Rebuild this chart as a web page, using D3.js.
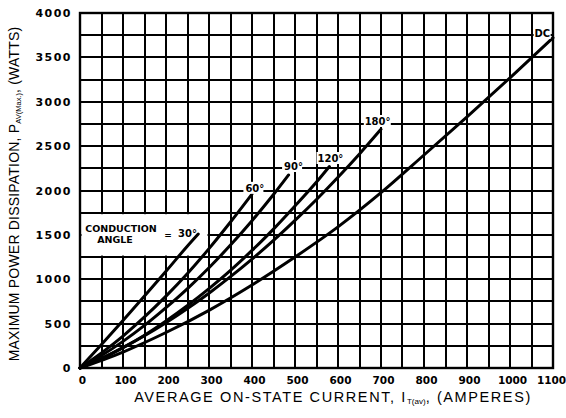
<html>
<head>
<meta charset="utf-8">
<script src="https://cdn.jsdelivr.net/npm/d3@7"></script>
<style>
  body { margin: 0; background: #fff; }
  text { fill: #000; }
</style>
</head>
<body>
<div id="chart"></div>
<script>
// tick labels
var xTicks = [0, 100, 200, 300, 400, 500, 600, 700, 800, 900, 1000, 1100];
var yTicks = [0, 500, 1000, 1500, 2000, 2500, 3000, 3500, 4000];

// curves: average current (A) vs max power (W)
var curveNames = ["30°", "60°", "90°", "120°", "180°", "DC"];
var amps30  = [0, 50, 100, 150, 200, 250, 275];
var watts30 = [0, 265, 535, 810, 1090, 1375, 1510];
var amps60  = [0, 50, 100, 150, 200, 250, 300, 350, 400];
var watts60 = [0, 170, 360, 575, 810, 1065, 1345, 1645, 1960];
var amps90  = [0, 50, 100, 150, 200, 250, 300, 350, 400, 450, 485];
var watts90 = [0, 140, 300, 480, 680, 895, 1130, 1385, 1660, 1955, 2175];
var amps120  = [0, 50, 100, 150, 200, 250, 300, 350, 400, 450, 500, 550, 580];
var watts120 = [0, 105, 230, 370, 530, 705, 895, 1100, 1325, 1565, 1825, 2095, 2270];
var amps180  = [0, 50, 100, 150, 200, 250, 300, 350, 400, 450, 500, 550, 600, 650, 700];
var watts180 = [0, 108, 230, 364, 511, 671, 843, 1029, 1227, 1438, 1663, 1899, 2149, 2412, 2690];
var ampsDC  = [0, 100, 200, 300, 400, 500, 600, 700, 800, 900, 1000, 1100];
var wattsDC = [0, 180, 400, 650, 935, 1250, 1590, 1975, 2400, 2830, 3270, 3720];

var ampsAll = [amps30, amps60, amps90, amps120, amps180, ampsDC];
var wattsAll = [watts30, watts60, watts90, watts120, watts180, wattsDC];

var W = 566, H = 418;
var svg = d3.select("#chart").append("svg")
  .attr("width", W).attr("height", H);

var x = d3.scaleLinear().domain([0, 1100]).range([80, 553]);
var y = d3.scaleLinear().domain([0, 4000]).range([368, 13]);

// grid: every 50 A and every 250 W
var grid = svg.append("g").attr("stroke", "#000").attr("stroke-width", 2)
  .attr("shape-rendering", "crispEdges");
grid.selectAll(".gx").data(d3.range(0, 1101, 50)).enter().append("line")
  .attr("x1", function (d) { return Math.round(x(d)); }).attr("x2", function (d) { return Math.round(x(d)); })
  .attr("y1", y(0)).attr("y2", y(4000));
grid.selectAll(".gy").data(d3.range(0, 4001, 250)).enter().append("line")
  .attr("y1", function (d) { return Math.round(y(d)); }).attr("y2", function (d) { return Math.round(y(d)); })
  .attr("x1", x(0)).attr("x2", x(1100));

// blank box behind the conduction angle note
svg.append("rect")
  .attr("x", x(0) + 1.5).attr("y", y(1750) + 1.5)
  .attr("width", x(300) - x(0) - 3).attr("height", y(1250) - y(1750) - 3)
  .attr("fill", "#fff");

svg.append("rect")
  .attr("x", x(0)).attr("y", y(4000))
  .attr("width", x(1100) - x(0)).attr("height", y(0) - y(4000))
  .attr("fill", "none").attr("stroke", "#000").attr("stroke-width", 2.4);

// axes (labels only)
var xAxis = svg.append("g").attr("transform", "translate(2," + (y(0) + 6) + ")")
  .call(d3.axisBottom(x).tickValues(xTicks).tickSize(0).tickFormat(d3.format("d")));
var yAxis = svg.append("g").attr("transform", "translate(" + (x(0) - 5) + ",0)")
  .call(d3.axisLeft(y).tickValues(yTicks).tickSize(0).tickFormat(d3.format("d")));
[xAxis, yAxis].forEach(function (a) {
  a.select(".domain").remove();
  a.selectAll("text")
    .style("font-family", "DejaVu Sans")
    .style("font-weight", "bold")
    .style("font-size", "10.5px")
    .attr("fill", "#000");
});
yAxis.selectAll("text").style("letter-spacing", "1.5px").style("font-size", "11px");
xAxis.selectAll(".tick:last-of-type text").attr("dx", -4);

// curves
var line = d3.line()
  .x(function (d) { return x(d[0]); })
  .y(function (d) { return y(d[1]); })
  .curve(d3.curveMonotoneX);

curveNames.forEach(function (name, k) {
  var pts = ampsAll[k].map(function (a, i) { return [a, wattsAll[k][i]]; });
  svg.append("path")
    .attr("d", line(pts))
    .attr("fill", "none")
    .attr("stroke", "#000")
    .attr("stroke-width", 3)
    .attr("stroke-linecap", "round");
});

// curve labels
function label(t, px, py, size) {
  return svg.append("text").attr("x", px).attr("y", py).text(t)
    .style("font-family", "DejaVu Sans").style("font-weight", "bold")
    .style("font-size", (size || 10) + "px");
}
function whiteBox(px, py, w, h) {
  svg.append("rect").attr("x", px).attr("y", py).attr("width", w).attr("height", h).attr("fill", "#fff");
}
whiteBox(x(380), y(1985) - 10, 20, 12);
label("60°", x(380) + 2, y(1985));
whiteBox(x(470), y(2231) - 10, 20, 12);
label("90°", x(470) + 2, y(2231));
whiteBox(x(550), y(2321) - 10, 26, 12);
label("120°", x(550) + 1, y(2321));
whiteBox(x(660), y(2738) - 10, 27, 12);
label("180°", x(662), y(2738));
whiteBox(x(1055), y(3730) - 10, 17, 12);
label("DC", x(1057), y(3730));

label("CONDUCTION", x(12), y(1532), 9.5);
label("ANGLE", x(40), y(1408), 9.5);
label("=", x(196), y(1460), 9);
label("30°", x(228), y(1475));

// axis titles
var xt = svg.append("text").attr("x", 333).attr("y", 402)
  .attr("text-anchor", "middle")
  .style("font-family", "Liberation Sans").style("font-size", "14.5px")
  .style("letter-spacing", "1.6px");
xt.append("tspan").text("AVERAGE ON-STATE CURRENT, I");
xt.append("tspan").attr("dy", 2).style("font-size", "8px").style("letter-spacing", "0px").text("T(av)");
xt.append("tspan").attr("dy", -2).text(", (AMPERES)");

var yt = svg.append("text")
  .attr("transform", "translate(19,194) rotate(-90)")
  .attr("text-anchor", "middle")
  .style("font-family", "Liberation Sans").style("font-size", "14px")
  .style("letter-spacing", "0.2px");
yt.append("tspan").text("MAXIMUM POWER DISSIPATION, P");
yt.append("tspan").attr("dy", 2).style("font-size", "7.5px").style("letter-spacing", "0px").text("AV(Max.)");
yt.append("tspan").attr("dy", -2).text(", (WATTS)");
</script>
</body>
</html>
